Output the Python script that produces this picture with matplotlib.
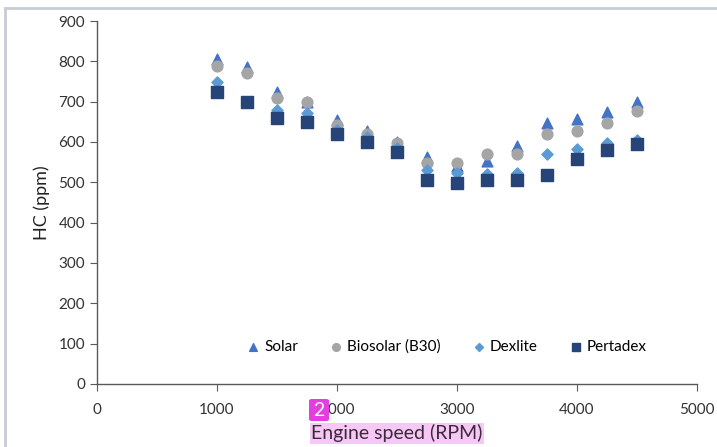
import matplotlib.pyplot as plt
from matplotlib.lines import Line2D
from matplotlib.patches import FancyBboxPatch

plt.rcParams['font.family'] = ['Lato', 'DejaVu Sans']

rpm = [1000, 1250, 1500, 1750, 2000, 2250, 2500, 2750, 3000, 3250, 3500, 3750, 4000, 4250, 4500]

solar = [805, 785, 725, 700, 655, 628, 600, 564, 540, 554, 590, 648, 658, 674, 698]
biosolar = [789, 770, 710, 698, 642, 620, 598, 549, 549, 570, 569, 619, 628, 648, 678]
dexlite = [749, 700, 679, 671, 630, 613, 585, 531, 522, 520, 524, 569, 582, 597, 605]
pertadex = [723, 698, 659, 649, 619, 599, 574, 507, 499, 507, 507, 518, 558, 580, 594]

fig = plt.figure(figsize=(7.17, 4.47), dpi=100)
ax = fig.add_axes([0.1353, 0.141, 0.8368, 0.812])

ax.scatter(rpm, solar, marker='^', s=60, color='#4472C4', label='Solar', zorder=3)
ax.scatter(rpm, biosolar, marker='o', s=60, color='#A5A5A5', label='Biosolar (B30)', zorder=4)
ax.scatter(rpm, dexlite, marker='D', s=32, color='#5B9BD5', label='Dexlite', zorder=5)
ax.scatter(rpm, pertadex, marker='s', s=70, color='#264478', label='Pertadex', zorder=6)

ax.set_xlim(0, 5000)
ax.set_ylim(0, 900)
ax.set_xticks(range(0, 5001, 1000))
ax.set_yticks(range(0, 901, 100))
for s in ['top', 'right']:
    ax.spines[s].set_visible(False)
for s in ['left', 'bottom']:
    ax.spines[s].set_color('#595959')
    ax.spines[s].set_linewidth(1.0)
ax.tick_params(direction='out', length=5, color='#595959', labelsize=11, labelcolor='#333333')
ax.tick_params(axis='x', pad=9)

ax.set_ylabel('HC (ppm)', fontsize=13, color='#222222', labelpad=6)
ax.set_xlabel('Engine speed (RPM)', fontsize=14, color='#3a2a3a', labelpad=5,
              bbox=dict(boxstyle='square,pad=0.08', facecolor='#f7c8f5', edgecolor='none'))

ax.legend(loc='center', bbox_to_anchor=(0.583, 0.102), ncol=4, frameon=False,
          fontsize=11, handlelength=0.8, handletextpad=0.3, columnspacing=2.1,
          markerscale=0.72)

# page frame lines
fig.add_artist(Line2D([5 / 717, 1], [1 - 8 / 447, 1 - 8 / 447], color='#c5cdd6', lw=2))
fig.add_artist(Line2D([5 / 717, 5 / 717], [0, 1 - 8 / 447], color='#c5cdd6', lw=2))

# annotation badge
badge = FancyBboxPatch((309 / 717, 1 - 421 / 447), 20 / 717, 22 / 447,
                       boxstyle='round,pad=0,rounding_size=0.004',
                       transform=fig.transFigure, facecolor='#e43ee0', edgecolor='none', zorder=10)
fig.add_artist(badge)
fig.text(319 / 717, 1 - 410 / 447, '2', color='white', fontsize=14, ha='center', va='center', zorder=11)

fig.savefig('out.png', dpi=100)
